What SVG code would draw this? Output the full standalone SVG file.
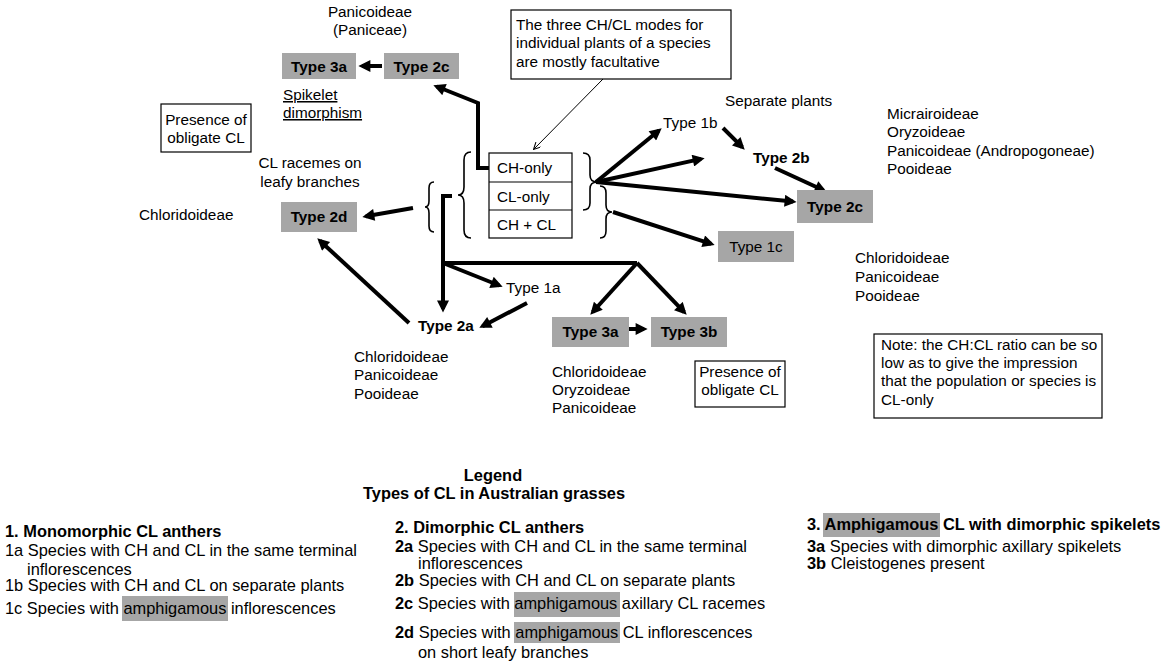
<svg xmlns="http://www.w3.org/2000/svg" width="1168" height="664" viewBox="0 0 1168 664">
<defs>
<style>
text{font-family:"Liberation Sans",Arial,sans-serif;font-size:15.3px;fill:#000}
.b{font-weight:bold}
.c{text-anchor:middle}
.lg{font-size:16.4px}
.gbox{fill:#a6a6a6;stroke:none}
.wbox{fill:#fff;stroke:#000;stroke-width:1.2}
.hl{fill:#a6a6a6}
.arr{fill:none;stroke:#000;stroke-width:4;marker-end:url(#ah)}
.ln{fill:none;stroke:#000;stroke-width:4}
.brace{fill:none;stroke:#000;stroke-width:1.6}
.thin{fill:none;stroke:#000;stroke-width:1;marker-end:url(#ahs)}
</style>
<marker id="ah" viewBox="0 0 10 10" refX="7" refY="5" markerWidth="14" markerHeight="12" markerUnits="userSpaceOnUse" orient="auto">
<path d="M0,0 L10,5 L0,10 z" fill="#000"/>
</marker>
<marker id="ahs" viewBox="0 0 10 10" refX="9" refY="5" markerWidth="8" markerHeight="7" markerUnits="userSpaceOnUse" orient="auto">
<path d="M0,0 L10,5 L0,10" fill="none" stroke="#000" stroke-width="1.5"/>
</marker>
</defs>
<rect width="1168" height="664" fill="#fff"/>

<g id="connectors">
<path class="arr" d="M382,66 L362,66"/>
<path class="arr" d="M490,168 L478,168 L478,103 L436.7,86.5"/>
<path class="arr" d="M596,182 L658.9,130.5"/>
<path class="arr" d="M596,182 L701.1,158.9"/>
<path class="arr" d="M596,182 L793,201.6"/>
<path class="arr" d="M613,212 L711.2,243.8"/>
<path class="arr" d="M723,128 L742.2,147.2"/>
<path class="arr" d="M775,168 L823.4,190.3"/>
<path class="arr" d="M413,208 L365.9,216.3"/>
<path class="arr" d="M409,323 L319.9,240.7"/>
<path class="arr" d="M452,196 L443,196 L443,309"/>
<path class="ln" d="M443,263 L637,263"/>
<path class="arr" d="M443,263 L499.3,285.5"/>
<path class="arr" d="M527,303 L482.5,326.2"/>
<path class="arr" d="M637,263 L592.7,312"/>
<path class="arr" d="M637,263 L684.2,312.1"/>
<path class="arr" d="M629,329 L644,329"/>
<path class="thin" d="M603,79 L534,149"/>
</g>

<g id="braces">
<path class="brace" d="M471,152 Q464,152 464,160 L464,187 Q464,195 458,195 Q464,195 464,203 L464,230 Q464,238 471,238"/>
<path class="brace" d="M434,182 Q429,182 429,188 L429,201 Q429,207 425,207 Q429,207 429,213 L429,226 Q429,232 434,232"/>
<path class="brace" d="M583,153 Q590,153 590,160 L590,175 Q590,182 597,182 Q590,182 590,189 L590,203 Q590,210 583,210"/>
<path class="brace" d="M600,186 Q606,186 606,193 L606,205 Q606,212 612,212 Q606,212 606,219 L606,231 Q606,238 600,238"/>
</g>

<g id="modes">
<rect class="wbox" x="489" y="153" width="83" height="85"/>
<line x1="489" y1="182" x2="572" y2="182" stroke="#000" stroke-width="1.2"/>
<line x1="489" y1="210" x2="572" y2="210" stroke="#000" stroke-width="1.2"/>
<text x="497" y="173">CH-only</text>
<text x="497" y="202">CL-only</text>
<text x="497" y="230">CH + CL</text>
</g>

<g id="callout">
<rect class="wbox" x="511" y="10" width="220" height="69"/>
<text x="516" y="30">The three CH/CL modes for</text>
<text x="516" y="48">individual plants of a species</text>
<text x="516" y="67">are mostly facultative</text>
</g>

<g id="panicoideae-top">
<text class="c" x="370" y="17">Panicoideae</text>
<text class="c" x="370" y="35">(Paniceae)</text>
</g>

<g id="type3a-top">
<rect class="gbox" x="282" y="53" width="74" height="26"/>
<text class="b c" x="319" y="72">Type 3a</text>
</g>

<g id="type2c-top">
<rect class="gbox" x="384" y="53" width="75" height="26"/>
<text class="b c" x="421.5" y="72">Type 2c</text>
</g>

<g id="spikelet">
<text x="283" y="100" text-decoration="underline">Spikelet</text>
<text x="283" y="118" text-decoration="underline">dimorphism</text>
</g>

<g id="obligate-left">
<rect class="wbox" x="161" y="104" width="90" height="48"/>
<text class="c" x="206" y="125">Presence of</text>
<text class="c" x="206" y="143">obligate CL</text>
</g>

<g id="racemes">
<text class="c" x="310" y="168">CL racemes on</text>
<text class="c" x="310" y="187">leafy branches</text>
</g>

<g id="chlor-left">
<text x="139" y="220">Chloridoideae</text>
</g>

<g id="type2d">
<rect class="gbox" x="281" y="202" width="76" height="30"/>
<text class="b c" x="319" y="222">Type 2d</text>
</g>

<g id="type1b">
<text x="663" y="128">Type 1b</text>
</g>

<g id="separate">
<text x="725" y="106">Separate plants</text>
</g>

<g id="type2b">
<text class="b" x="753" y="163">Type 2b</text>
</g>

<g id="type2c-right">
<rect class="gbox" x="797" y="190" width="76" height="33"/>
<text class="b c" x="835" y="212">Type 2c</text>
</g>

<g id="type1c">
<rect class="gbox" x="718" y="231" width="76" height="31"/>
<text class="c" x="756" y="252">Type 1c</text>
</g>

<g id="subfam-right-top">
<text x="887" y="119">Micrairoideae</text>
<text x="887" y="137">Oryzoideae</text>
<text x="887" y="156">Panicoideae (Andropogoneae)</text>
<text x="887" y="174">Pooideae</text>
</g>

<g id="subfam-right-mid">
<text x="855" y="263">Chloridoideae</text>
<text x="855" y="282">Panicoideae</text>
<text x="855" y="301">Pooideae</text>
</g>

<g id="note">
<rect class="wbox" x="874" y="334" width="228" height="84"/>
<text x="881" y="350">Note: the CH:CL ratio can be so</text>
<text x="881" y="368">low as to give the impression</text>
<text x="881" y="386">that the population or species is</text>
<text x="881" y="405">CL-only</text>
</g>

<g id="type1a">
<text x="506" y="293">Type 1a</text>
</g>

<g id="type2a">
<text class="b" x="418" y="331">Type 2a</text>
</g>

<g id="subfam-2a">
<text x="354" y="362">Chloridoideae</text>
<text x="354" y="380">Panicoideae</text>
<text x="354" y="399">Pooideae</text>
</g>

<g id="type3a-bottom">
<rect class="gbox" x="552" y="317" width="77" height="30"/>
<text class="b c" x="590.5" y="337">Type 3a</text>
</g>

<g id="type3b">
<rect class="gbox" x="651" y="317" width="76" height="30"/>
<text class="b c" x="689" y="337">Type 3b</text>
</g>

<g id="subfam-3a">
<text x="552" y="377">Chloridoideae</text>
<text x="552" y="395">Oryzoideae</text>
<text x="552" y="413">Panicoideae</text>
</g>

<g id="obligate-bottom">
<rect class="wbox" x="695" y="361" width="90" height="46"/>
<text class="c" x="740" y="377">Presence of</text>
<text class="c" x="740" y="395">obligate CL</text>
</g>

<g id="legend-title">
<text class="b c lg" x="493" y="481">Legend</text>
<text class="b c lg" x="494" y="499">Types of CL in Australian grasses</text>
</g>

<g id="legend-col1">
<rect class="hl" x="122" y="596" width="106" height="25"/>
<text class="lg b" x="5" y="537">1. Monomorphic CL anthers</text>
<text class="lg" x="5" y="556">1a Species with CH and CL in the same terminal</text>
<text class="lg" x="27" y="574.5">inflorescences</text>
<text class="lg" x="5" y="591">1b Species with CH and CL on separate plants</text>
<text class="lg" x="5" y="614">1c Species with amphigamous inflorescences</text>
</g>

<g id="legend-col2">
<rect class="hl" x="514" y="592" width="106" height="25"/>
<rect class="hl" x="514" y="622" width="106" height="21"/>
<text class="lg b" x="395" y="533">2. Dimorphic CL anthers</text>
<text class="lg" x="395" y="552"><tspan class="b">2a</tspan> Species with CH and CL in the same terminal</text>
<text class="lg" x="418" y="569">inflorescences</text>
<text class="lg" x="395" y="585.5"><tspan class="b">2b</tspan> Species with CH and CL on separate plants</text>
<text class="lg" x="395" y="609"><tspan class="b">2c</tspan> Species with amphigamous axillary CL racemes</text>
<text class="lg" x="395" y="638"><tspan class="b">2d</tspan> Species with amphigamous CL inflorescences</text>
<text class="lg" x="418" y="658">on short leafy branches</text>
</g>

<g id="legend-col3">
<rect class="hl" x="823" y="513" width="117" height="24"/>
<text class="lg b" x="807" y="530">3. Amphigamous CL with dimorphic spikelets</text>
<text class="lg" x="807" y="552"><tspan class="b">3a</tspan> Species with dimorphic axillary spikelets</text>
<text class="lg" x="807" y="569"><tspan class="b">3b</tspan> Cleistogenes present</text>
</g>
</svg>
